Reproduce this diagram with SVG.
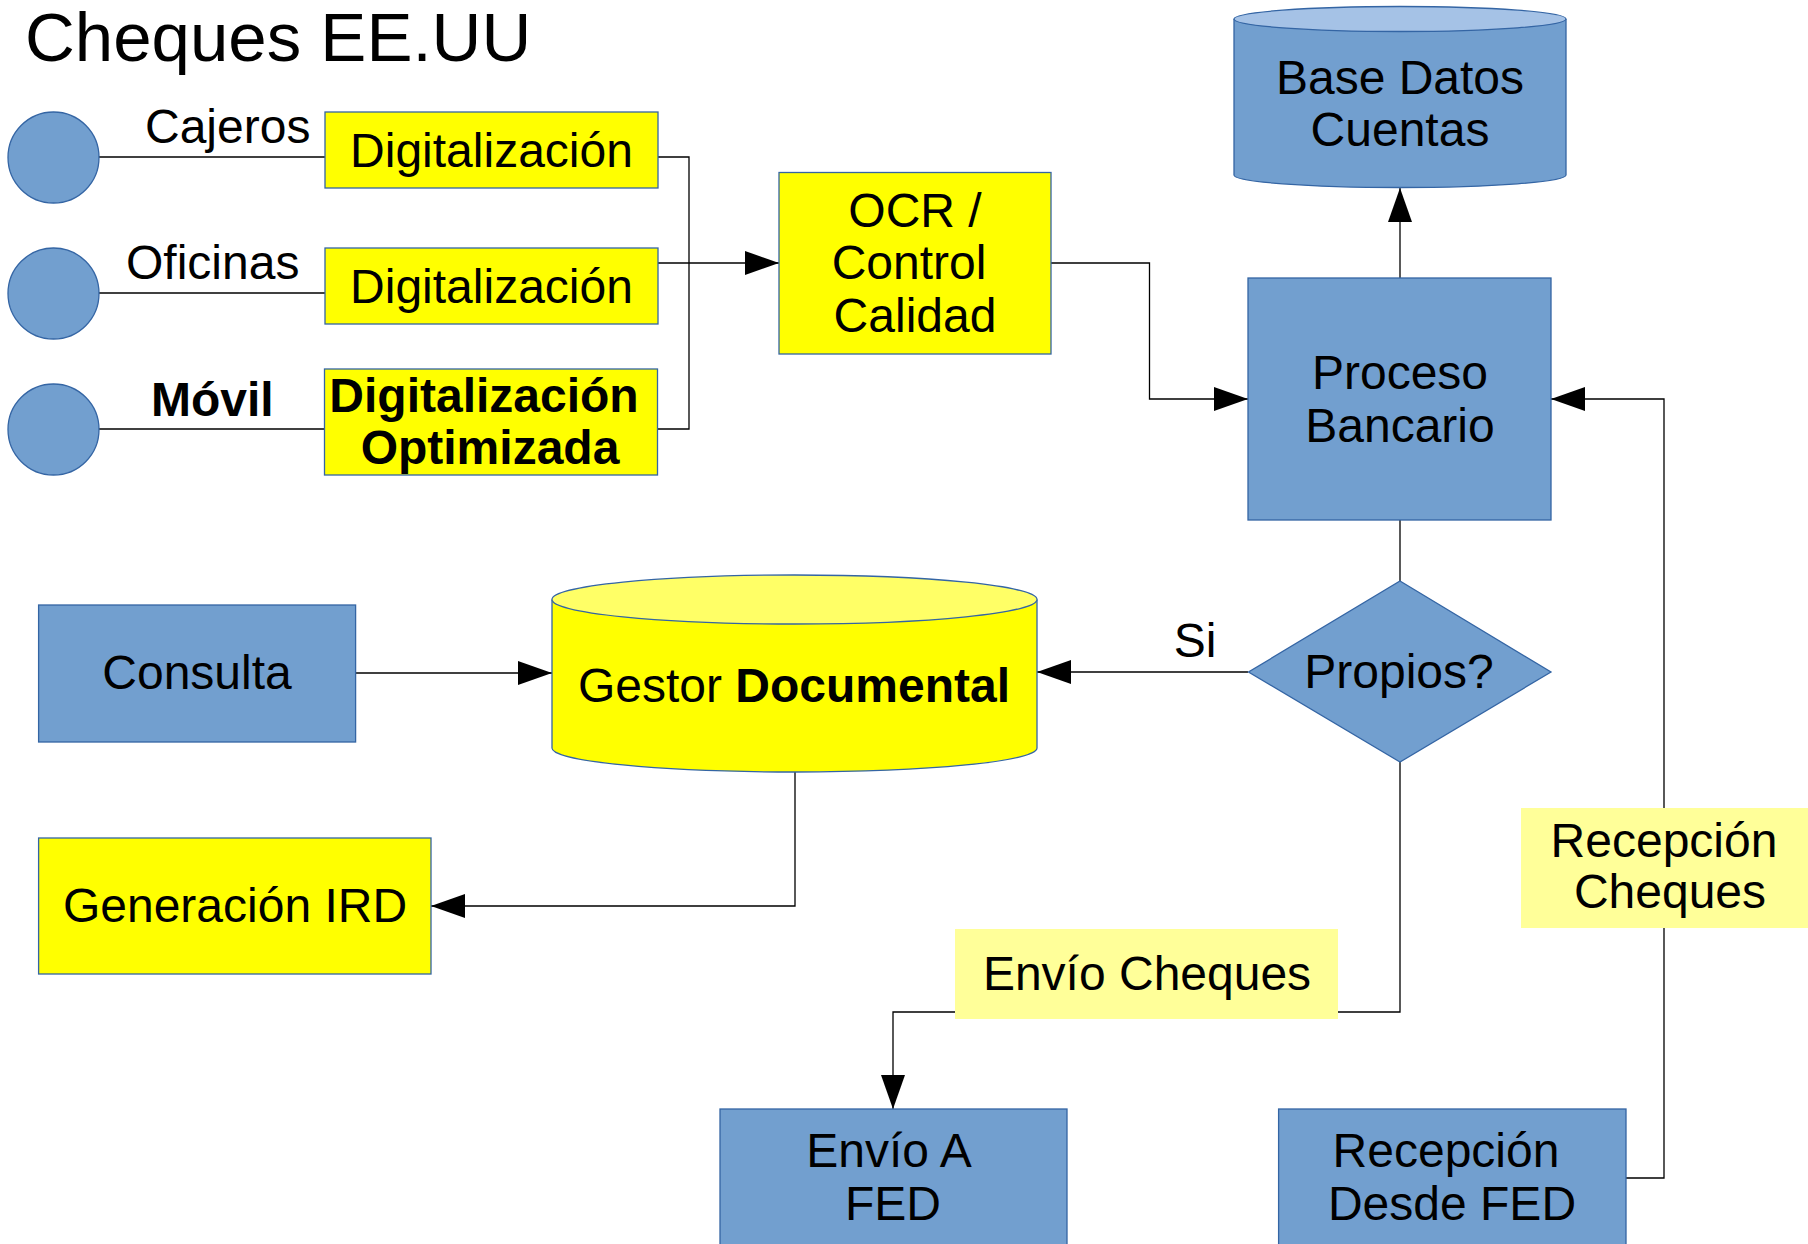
<svg xmlns="http://www.w3.org/2000/svg" width="1808" height="1244" viewBox="0 0 1808 1244">
<style>
text{font-family:"Liberation Sans",Arial,sans-serif;font-size:48px;fill:#000}
.t{text-anchor:middle}
.b{font-weight:bold}
.blue{fill:#729fcf;stroke:#3465a4;stroke-width:1.3}
.yel{fill:#ffff00;stroke:#3465a4;stroke-width:1.3}
.lbl{fill:#ffff99;stroke:none}
.c{fill:none;stroke:#000;stroke-width:1.3}
</style>
<defs>
<marker id="ah" viewBox="0 0 34 24" refX="34" refY="12" markerWidth="34" markerHeight="24" markerUnits="userSpaceOnUse" orient="auto">
<path d="M0,0 L34,12 L0,24 z" fill="#000"/>
</marker>
</defs>
<rect width="1808" height="1244" fill="#fff"/>
<text id="title" x="25" y="61" style="font-size:69px">Cheques EE.UU</text>

<g id="connectors">
<path class="c" d="M99,157 H325"/>
<path class="c" d="M99,293 H325"/>
<path class="c" d="M99,429 H324"/>
<path class="c" d="M658,157 H689 V429 H657"/>
<path class="c" d="M658,263 H779" marker-end="url(#ah)"/>
<path class="c" d="M1051,263 H1149.5 V399 H1248" marker-end="url(#ah)"/>
<path class="c" d="M1400,278 V188" marker-end="url(#ah)"/>
<path class="c" d="M1400,520 V581"/>
<path class="c" d="M1248,672 H1037" marker-end="url(#ah)"/>
<path class="c" d="M356,673 H552" marker-end="url(#ah)"/>
<path class="c" d="M795,772 V906 H431" marker-end="url(#ah)"/>
<path class="c" d="M1400,762 V1012 H893 V1109" marker-end="url(#ah)"/>
<path class="c" d="M1626,1178 H1664 V399 H1551" marker-end="url(#ah)"/>
<text x="1195" y="657" class="t">Si</text>
<g id="lbl-envio">
<rect class="lbl" x="955" y="929" width="383" height="90"/>
<text x="1147" y="990" class="t">Envío Cheques</text>
</g>
<g id="lbl-recepcion">
<rect class="lbl" x="1521" y="808" width="287" height="120"/>
<text x="1664" y="857" class="t">Recepción</text>
<text x="1670" y="908" class="t">Cheques</text>
</g>
</g>

<g id="cajeros">
<circle class="blue" cx="53.5" cy="157.5" r="45.5"/>
<text x="145" y="143">Cajeros</text>
</g>
<g id="oficinas">
<circle class="blue" cx="53.5" cy="293.5" r="45.5"/>
<text x="126" y="279">Oficinas</text>
</g>
<g id="movil">
<circle class="blue" cx="53.5" cy="429.5" r="45.5"/>
<text x="151" y="416" class="b">Móvil</text>
</g>

<g id="dig1">
<rect class="yel" x="325" y="112" width="333" height="76"/>
<text x="491.5" y="167" class="t">Digitalización</text>
</g>
<g id="dig2">
<rect class="yel" x="325" y="248" width="333" height="76"/>
<text x="491.5" y="303" class="t">Digitalización</text>
</g>
<g id="dig3">
<rect class="yel" x="324.5" y="369" width="333" height="106"/>
<text x="484" y="412" class="t b">Digitalización</text>
<text x="490" y="464" class="t b">Optimizada</text>
</g>

<g id="ocr">
<rect class="yel" x="779" y="172.5" width="272" height="181.5"/>
<text x="915" y="227" class="t">OCR /</text>
<text x="909" y="279" class="t">Control</text>
<text x="915" y="332" class="t">Calidad</text>
</g>

<g id="basedatos">
<path class="blue" d="M1234,19 V175 A166,12.5 0 0 0 1566,175 V19"/>
<ellipse cx="1400" cy="19" rx="166" ry="12.5" fill="#a5c2e6" stroke="#3465a4" stroke-width="1.3"/>
<text x="1400" y="94" class="t">Base Datos</text>
<text x="1400" y="146" class="t">Cuentas</text>
</g>

<g id="proceso">
<rect class="blue" x="1248" y="278" width="303" height="242"/>
<text x="1400" y="389" class="t">Proceso</text>
<text x="1400" y="442" class="t">Bancario</text>
</g>

<g id="propios">
<polygon class="blue" points="1400,581 1551,672 1400,762 1248.5,672"/>
<text x="1399" y="688" class="t">Propios?</text>
</g>

<g id="consulta">
<rect class="blue" x="38.6" y="605" width="317" height="137"/>
<text x="197" y="689" class="t">Consulta</text>
</g>

<g id="gestor">
<path class="yel" d="M552,599.5 V748 A242.5,24 0 0 0 1037,748 V599.5"/>
<ellipse cx="794.5" cy="599.5" rx="242.5" ry="24.5" fill="#ffff66" stroke="#3465a4" stroke-width="1.3"/>
<text x="794" y="702" class="t">Gestor <tspan class="b">Documental</tspan></text>
</g>

<g id="generacion">
<rect class="yel" x="38.6" y="838" width="392.4" height="136"/>
<text x="235" y="922" class="t">Generación IRD</text>
</g>

<g id="enviofed">
<rect class="blue" x="720" y="1109" width="347" height="160"/>
<text x="889" y="1167" class="t">Envío A</text>
<text x="893" y="1220" class="t">FED</text>
</g>

<g id="recepcionfed">
<rect class="blue" x="1278.6" y="1109" width="347.4" height="160"/>
<text x="1446" y="1167" class="t">Recepción</text>
<text x="1452" y="1220" class="t">Desde FED</text>
</g>
</svg>
